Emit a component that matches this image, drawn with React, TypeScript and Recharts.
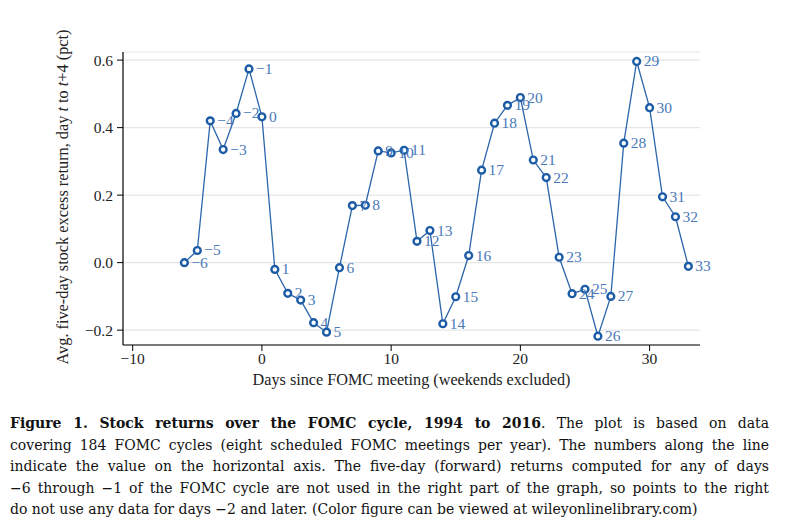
import React from 'react';
import {
  LineChart,
  Line,
  XAxis,
  YAxis,
  CartesianGrid,
  LabelList,
  Label
} from 'recharts';

// days in the FOMC cycle (weekends excluded)
const days = [
  -6, -5, -4, -3, -2, -1, 0, 1, 2, 3, 4, 5, 6, 7, 8, 9, 10, 11, 12, 13,
  14, 15, 16, 17, 18, 19, 20, 21, 22, 23, 24, 25, 26, 27, 28, 29, 30, 31, 32, 33
];

// avg five-day excess return, pct
const returns = [
  0.0, 0.036, 0.42, 0.335, 0.442, 0.574, 0.432, -0.02, -0.091, -0.111,
  -0.178, -0.206, -0.015, 0.169, 0.17, 0.331, 0.325, 0.333, 0.063, 0.095,
  -0.181, -0.101, 0.021, 0.274, 0.413, 0.466, 0.489, 0.304, 0.252, 0.016,
  -0.092, -0.079, -0.218, -0.1, 0.354, 0.596, 0.459, 0.195, 0.136, -0.011
];

const xTicks = [-10, 0, 10, 20, 30];
const yTicks = [-0.2, 0.0, 0.2, 0.4, 0.6];

const captionLines = [
  [<b key="b">Figure 1. Stock returns over the FOMC cycle, 1994 to 2016</b>, '. The plot is based on data'],
  ['covering 184 FOMC cycles (eight scheduled FOMC meetings per year). The numbers along the line'],
  ['indicate the value on the horizontal axis. The five-day (forward) returns computed for any of days'],
  ['\u22126 through \u22121 of the FOMC cycle are not used in the right part of the graph, so points to the right'],
  ['do not use any data for days \u22122 and later. (Color figure can be viewed at wileyonlinelibrary.com)']
];

const data = days.map((d, i) => ({ day: d, ret: returns[i] }));

const fmtNum = (v: number, digits = 0) => {
  const s = Math.abs(v).toFixed(digits);
  return v < 0 ? `\u2212${s}` : s;
};

const SERIF = '"Liberation Serif", "Times New Roman", serif';
const LINE = '#2b65aa';
const MARK = '#1c5ba6';
const TEXT_BLUE = '#4a79b8';

const Dot = (props: any) => {
  const { cx, cy } = props;
  if (cx == null || cy == null) return null;
  return <circle cx={cx} cy={cy} r={3.4} fill="#fff" stroke={MARK} strokeWidth={2.4} />;
};

const PointLabel = (props: any) => {
  const { x, y, value } = props;
  return (
    <text x={x + 7} y={y + 5} fill={TEXT_BLUE} fontSize={15.5} fontFamily={SERIF}>
      {fmtNum(value)}
    </text>
  );
};

const YLabel = () => {
  const cx = 62;
  const cy = 197;
  return (
    <text
      x={cx}
      y={cy}
      transform={`rotate(-90 ${cx} ${cy})`}
      textAnchor="middle"
      dominantBaseline="central"
      fontSize={16.3}
      fontFamily={SERIF}
      fill="#222"
    >
      Avg. five-day stock excess return, day <tspan fontStyle="italic">t</tspan> to{' '}
      <tspan fontStyle="italic">t</tspan>+4 (pct)
    </text>
  );
};

export default function App() {
  return (
    <div
      style={{
        position: 'absolute',
        left: 0,
        top: 0,
        width: 802,
        height: 525,
        background: '#fff',
        overflow: 'hidden'
      }}
    >
      <LineChart
        width={802}
        height={400}
        data={data}
        margin={{ top: 52, right: 102, left: 0, bottom: 25 }}
      >
        <CartesianGrid horizontal vertical={false} stroke="#e6e6e6" strokeWidth={1.2} />
        <XAxis
          dataKey="day"
          type="number"
          domain={[-10.75, 33.9]}
          ticks={xTicks}
          allowDataOverflow
          tickFormatter={(v) => fmtNum(v)}
          tick={{ fill: '#222', fontSize: 15.5, fontFamily: SERIF }}
          axisLine={{ stroke: '#000', strokeWidth: 1.2 }}
          tickLine={{ stroke: '#000' }}
          tickSize={6}
          tickMargin={2}
          height={30}
        >
          <Label
            value="Days since FOMC meeting (weekends excluded)"
            position="bottom"
            offset={-2}
            style={{ fill: '#222', fontSize: 16.2, fontFamily: SERIF }}
          />
        </XAxis>
        <YAxis
          type="number"
          domain={[-0.244, 0.624]}
          ticks={yTicks}
          allowDataOverflow
          tickFormatter={(v) => fmtNum(v, 1)}
          tick={{ fill: '#222', fontSize: 15.5, fontFamily: SERIF }}
          axisLine={{ stroke: '#000', strokeWidth: 1.2 }}
          tickLine={{ stroke: '#000' }}
          tickSize={6}
          tickMargin={4}
          width={123}
        >
          <Label content={<YLabel />} />
        </YAxis>
        <Line
          type="linear"
          dataKey="ret"
          stroke={LINE}
          strokeWidth={1.3}
          dot={<Dot />}
          activeDot={false}
          isAnimationActive={false}
        >
          <LabelList dataKey="day" content={<PointLabel />} />
        </Line>
      </LineChart>
      <div
        style={{
          position: 'absolute',
          left: 10,
          top: 413,
          width: 759,
          fontFamily: '"DejaVu Serif", serif',
          fontSize: 14,
          lineHeight: '21.6px',
          color: '#111'
        }}
      >
        {captionLines.map((line, i) => (
          <div
            key={i}
            style={{
              textAlign: 'justify',
              textAlignLast: i === captionLines.length - 1 ? 'left' : 'justify',
              whiteSpace: 'nowrap'
            }}
          >
            {line}
          </div>
        ))}
      </div>
    </div>
  );
}
